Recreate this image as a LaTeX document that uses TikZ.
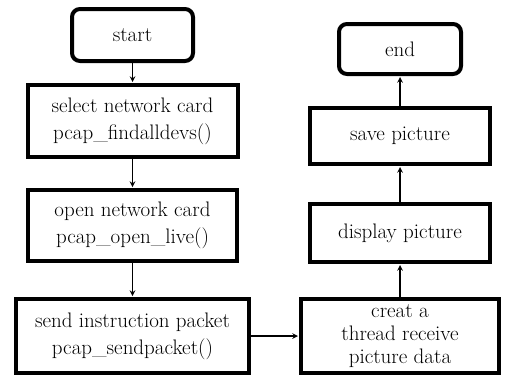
\documentclass[tikz,border=0pt]{standalone}
\usepackage{fontspec}
\usepackage{tikz}
\begin{document}
\begin{tikzpicture}[x=1pt,y=-1pt,>=stealth]
 \tikzstyle{stepbox} = [draw=black,line width=4pt,rectangle,align=center,inner sep=2pt,font=\fontsize{21}{27}\selectfont]
 \tikzstyle{termbox} = [stepbox,rounded corners=8pt]
 \tikzstyle{flow} = [->,line width=1.5pt,shorten >=1pt]
 \useasboundingbox (0,0) rectangle (506,378);

% Left column
 \node[termbox,minimum width=121pt,minimum height=52pt] (start) at (132.5,35) {start};
 \node[stepbox,minimum width=210pt,minimum height=72pt] (select) at (132.5,121) {select network card\\pcap\_findalldevs()};
 \node[stepbox,minimum width=209pt,minimum height=71pt] (open) at (132.5,225.5) {open network card\\pcap\_open\_live()};
 \node[stepbox,minimum width=233pt,minimum height=74pt] (send) at (132.5,336) {send instruction packet\\pcap\_sendpacket()};
% Right column
 \node[stepbox,minimum width=198pt,minimum height=74pt,font=\fontsize{21}{23}\selectfont] (creat) at (400,336) {creat a\\thread receive\\picture data};
 \node[stepbox,minimum width=180pt,minimum height=58pt] (display) at (400,233) {display picture};
 \node[stepbox,minimum width=180pt,minimum height=56pt] (save) at (400,136) {save picture};
 \node[termbox,minimum width=122pt,minimum height=50pt] (end) at (400,49) {end};

% Arrows
 \draw[flow] (start) -- (select);
 \draw[flow] (select) -- (open);
 \draw[flow] (open) -- (send);
 \draw[flow] (send) -- (creat);
 \draw[flow] (creat) -- (display);
 \draw[flow] (display) -- (save);
 \draw[flow] (save) -- (end);
\end{tikzpicture}
\end{document}
